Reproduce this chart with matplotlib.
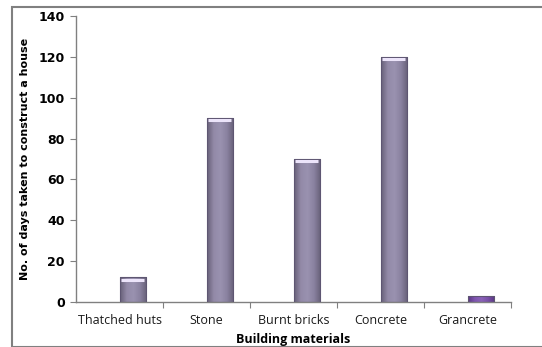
import numpy as np
import matplotlib
matplotlib.use("Agg")
import matplotlib.pyplot as plt
from matplotlib.patches import Rectangle
from matplotlib.colors import LinearSegmentedColormap
import matplotlib.transforms as mtransforms

categories = ["Thatched huts", "Stone", "Burnt bricks", "Concrete", "Grancrete"]
days = [12, 90, 70, 120, 3]
y_ticks = [0, 20, 40, 60, 80, 100, 120, 140]

fig = plt.figure(figsize=(5.42, 3.47), dpi=100)
fig.patches.append(Rectangle((12/542, 0), 1.2, 1 - 6.5/347, transform=fig.transFigure,
                             fill=False, edgecolor="#808080", linewidth=1.5))
ax = fig.add_axes([76/542, 45/347, 435/542, 286/347])

x = np.arange(len(categories))
width = 0.3
normal_cmap = LinearSegmentedColormap.from_list("g", ["#676078", "#938aa8", "#9a92b0", "#8a82a0", "#676078"])
gran_cmap = LinearSegmentedColormap.from_list("p", ["#5a3784", "#7f55b0", "#8a62b8", "#7a50a8", "#5a3784"])
bars = ax.bar(x, days, width=width, align="edge", color="none", edgecolor="#5e5672", linewidth=0.8, zorder=3)
grad = np.linspace(0, 1, 64).reshape(1, -1)
for i, b in enumerate(bars):
    cmap = gran_cmap if categories[i] == "Grancrete" else normal_cmap
    x0, y0 = b.get_x(), b.get_y()
    w, h = b.get_width(), b.get_height()
    im = ax.imshow(grad, cmap=cmap, extent=[x0, x0 + w, y0, y0 + h], aspect="auto", zorder=2)
    im.set_clip_path(b)
    if categories[i] != "Grancrete":
        off = mtransforms.offset_copy(ax.transData, fig=fig, x=0, y=-1.6, units="points")
        ax.plot([x0 + 0.06 * w, x0 + 0.94 * w], [y0 + h, y0 + h], color="#ece4fa",
                linewidth=2.2, transform=off, zorder=4, solid_capstyle="butt")

ax.set_xlim(-0.5, len(categories) - 0.5)
ax.set_ylim(0, 140)
ax.set_yticks(y_ticks)
ax.set_yticklabels([str(v) for v in y_ticks], fontsize=9, fontweight="bold", family="DejaVu Sans")
ax.set_xticks(np.arange(len(categories)) + 0.5)
ax.set_xticklabels([])
ax.set_xticks(x, minor=True)
ax.set_xticklabels(categories, minor=True, fontsize=9, family="Open Sans", color="#1a1a1a")
ax.tick_params(axis="x", which="minor", length=0, pad=9)
ax.tick_params(axis="x", which="major", length=4, color="#808080", direction="out")
ax.tick_params(axis="y", length=4, color="#808080", direction="out", pad=4)

for s in ["top", "right"]:
    ax.spines[s].set_visible(False)
for s in ["left", "bottom"]:
    ax.spines[s].set_color("#808080")
    ax.spines[s].set_linewidth(1.0)

ax.set_xlabel("Building materials", fontsize=9, fontweight="bold", family="Open Sans", labelpad=4)
ax.set_ylabel("No. of days taken to construct a house", fontsize=8, fontweight="bold",
              family="DejaVu Sans", labelpad=6)

fig.savefig("out.png", dpi=100)
